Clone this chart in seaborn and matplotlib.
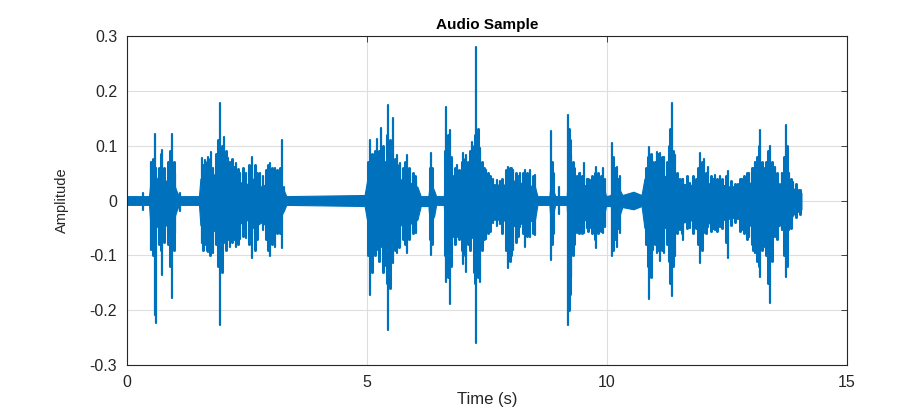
import numpy as np
import pandas as pd
import matplotlib
matplotlib.use("Agg")
import matplotlib.pyplot as plt
import seaborn as sns

# envelope of the dense "body" of the waveform (s, amplitude)
body_t = [0.00, 0.46, 0.49, 0.58, 0.68, 0.80, 0.93, 1.02, 1.08, 1.50, 1.53, 1.70, 1.92, 2.10,
          2.30, 2.50, 2.62, 2.80, 2.98, 3.15, 3.27, 3.32, 4.95, 5.02, 5.30, 5.45, 5.65, 5.85,
          6.05, 6.12, 6.28, 6.31, 6.40, 6.44, 6.60, 6.63, 6.80, 7.00, 7.28, 7.45, 7.63, 7.85,
          7.95, 8.10, 8.30, 8.50, 8.55, 8.80, 8.83, 8.92, 9.16, 9.19, 9.35, 9.55, 9.75, 9.92,
          9.98, 10.08, 10.11, 10.25, 10.32, 10.55, 10.72, 10.78, 10.95, 11.20, 11.40, 11.60,
          11.80, 11.95, 12.20, 12.45, 12.70, 12.95, 13.15, 13.40, 13.60, 13.72, 13.88, 14.05]
body_hi = [0.008, 0.008, 0.035, 0.045, 0.035, 0.035, 0.045, 0.020, 0.008, 0.008, 0.040, 0.045,
           0.050, 0.045, 0.035, 0.030, 0.040, 0.025, 0.035, 0.030, 0.018, 0.008, 0.010, 0.045,
           0.050, 0.050, 0.040, 0.035, 0.025, 0.008, 0.008, 0.035, 0.018, 0.008, 0.008, 0.045,
           0.035, 0.040, 0.045, 0.028, 0.030, 0.028, 0.040, 0.035, 0.030, 0.025, 0.008, 0.008,
           0.035, 0.008, 0.008, 0.050, 0.030, 0.028, 0.030, 0.028, 0.008, 0.010, 0.040, 0.022,
           0.010, 0.016, 0.010, 0.040, 0.045, 0.045, 0.040, 0.030, 0.028, 0.035, 0.030, 0.028,
           0.022, 0.030, 0.045, 0.045, 0.030, 0.045, 0.022, 0.014]
body_lo = [-0.008, -0.008, -0.045, -0.050, -0.045, -0.045, -0.050, -0.022, -0.008, -0.008,
           -0.045, -0.050, -0.060, -0.050, -0.045, -0.035, -0.050, -0.040, -0.050, -0.040,
           -0.018, -0.008, -0.010, -0.045, -0.050, -0.060, -0.045, -0.045, -0.035, -0.010,
           -0.010, -0.045, -0.028, -0.008, -0.008, -0.050, -0.045, -0.050, -0.055, -0.035,
           -0.035, -0.035, -0.050, -0.045, -0.040, -0.035, -0.008, -0.008, -0.045, -0.008,
           -0.008, -0.065, -0.045, -0.035, -0.045, -0.035, -0.010, -0.010, -0.050, -0.030,
           -0.012, -0.016, -0.010, -0.050, -0.050, -0.050, -0.045, -0.040, -0.035, -0.045,
           -0.040, -0.035, -0.030, -0.045, -0.050, -0.060, -0.045, -0.050, -0.026, -0.016]

# tallest individual peaks (s, max, min)
spike_t = [0.34, 0.51, 0.58, 0.60, 0.74, 0.93, 1.00, 1.10, 1.56, 1.62, 1.69, 1.76, 1.80, 1.94,
           2.03, 2.11, 2.15, 2.28, 2.35, 2.48, 2.60, 2.61, 2.77, 2.84, 2.98, 3.08, 3.22, 3.27,
           5.06, 5.13, 5.21, 5.30, 5.38, 5.44, 5.55, 5.62, 5.69, 5.83, 5.90, 6.03, 6.33, 6.65,
           6.72, 6.80, 6.87, 6.94, 7.00, 7.07, 7.18, 7.28, 7.35, 7.48, 7.63, 7.70, 7.77, 7.94,
           8.05, 8.19, 8.29, 8.40, 8.50, 8.83, 8.99, 9.19, 9.26, 9.37, 9.44, 9.52, 9.58, 9.64,
           9.78, 9.91, 9.95, 10.11, 10.20, 10.27, 10.88, 10.96, 11.04, 11.10, 11.19, 11.35,
           11.42, 11.52, 11.59, 11.73, 11.94, 12.01, 12.11, 12.25, 12.35, 12.53, 12.63, 12.72,
           12.81, 12.95, 13.08, 13.19, 13.27, 13.40, 13.50, 13.64, 13.72, 13.80, 13.88, 13.99]
spike_hi = [0.013, 0.070, 0.122, 0.060, 0.092, 0.122, 0.050, 0.013, 0.077, 0.074, 0.080, 0.089,
            0.060, 0.177, 0.116, 0.077, 0.070, 0.068, 0.050, 0.050, 0.080, 0.050, 0.050, 0.045,
            0.068, 0.060, 0.110, 0.025, 0.110, 0.062, 0.113, 0.132, 0.070, 0.174, 0.150, 0.083,
            0.068, 0.083, 0.045, 0.038, 0.086, 0.171, 0.129, 0.045, 0.065, 0.035, 0.086, 0.083,
            0.107, 0.280, 0.095, 0.056, 0.040, 0.037, 0.035, 0.062, 0.055, 0.050, 0.055, 0.055,
            0.046, 0.126, 0.025, 0.156, 0.083, 0.045, 0.050, 0.068, 0.040, 0.037, 0.062, 0.059,
            0.040, 0.104, 0.062, 0.045, 0.098, 0.070, 0.089, 0.086, 0.080, 0.177, 0.083, 0.040,
            0.040, 0.032, 0.086, 0.075, 0.062, 0.047, 0.044, 0.053, 0.025, 0.030, 0.040, 0.050,
            0.071, 0.129, 0.060, 0.100, 0.062, 0.050, 0.138, 0.050, 0.034, 0.019]
spike_lo = [-0.017, -0.090, -0.209, -0.224, -0.136, -0.178, -0.060, -0.020, -0.078, -0.082,
            -0.093, -0.070, -0.096, -0.227, -0.078, -0.072, -0.084, -0.084, -0.070, -0.068,
            -0.060, -0.105, -0.035, -0.054, -0.102, -0.084, -0.087, -0.020, -0.172, -0.080,
            -0.090, -0.084, -0.120, -0.236, -0.114, -0.096, -0.084, -0.096, -0.055, -0.060,
            -0.100, -0.148, -0.188, -0.066, -0.066, -0.045, -0.115, -0.130, -0.069, -0.259,
            -0.148, -0.070, -0.041, -0.047, -0.042, -0.124, -0.090, -0.048, -0.084, -0.066,
            -0.063, -0.108, -0.024, -0.227, -0.139, -0.060, -0.055, -0.060, -0.050, -0.051,
            -0.087, -0.060, -0.048, -0.102, -0.084, -0.060, -0.180, -0.090, -0.096, -0.110,
            -0.096, -0.175, -0.102, -0.054, -0.072, -0.050, -0.114, -0.060, -0.048, -0.054,
            -0.048, -0.105, -0.032, -0.034, -0.054, -0.066, -0.096, -0.139, -0.084, -0.187,
            -0.066, -0.054, -0.139, -0.054, -0.026, -0.020]

# mid-height strokes that make up the comb-like texture (s, max, min)
comb_t = [0.54, 0.66, 0.70, 0.78, 0.86, 0.90, 0.97,
          1.59, 1.66, 1.73, 1.85, 1.89, 1.98, 2.07, 2.19, 2.24, 2.32, 2.42, 2.55, 2.66, 2.70,
          2.90, 2.94, 3.02, 3.12, 3.18,
          5.03, 5.10, 5.17, 5.25, 5.34, 5.41, 5.48, 5.52, 5.59, 5.66, 5.74, 5.79, 5.87, 5.95,
          6.00, 6.31, 6.36,
          6.63, 6.68, 6.76, 6.84, 6.91, 6.97, 7.04, 7.11, 7.15, 7.22, 7.25, 7.32, 7.40, 7.44,
          7.53, 7.57, 7.81, 7.90, 7.98, 8.01, 8.10, 8.14, 8.24, 8.34, 8.45, 8.85, 8.88,
          9.21, 9.23, 9.29, 9.32, 9.41, 9.48, 9.61, 9.69, 9.74, 9.82, 9.87, 10.13, 10.16, 10.23,
          10.82, 10.85, 10.91, 11.00, 11.07, 11.14, 11.24, 11.29, 11.32, 11.38, 11.46, 11.56,
          11.66, 11.79, 11.85, 11.90, 11.98, 12.06, 12.16, 12.20, 12.30, 12.40, 12.47, 12.58,
          12.67, 12.76, 12.86, 12.91, 13.01, 13.04, 13.12, 13.16, 13.23, 13.31, 13.36, 13.44,
          13.55, 13.68, 13.75, 13.84, 13.93, 14.02]
comb_hi = [0.075, 0.060, 0.085, 0.060, 0.070, 0.090, 0.070,
           0.065, 0.070, 0.075, 0.085, 0.110, 0.100, 0.090, 0.075, 0.062, 0.058, 0.060, 0.065,
           0.065, 0.050, 0.055, 0.065, 0.060, 0.055, 0.060,
           0.070, 0.085, 0.090, 0.090, 0.100, 0.120, 0.110, 0.090, 0.075, 0.065, 0.060, 0.070,
           0.060, 0.050, 0.045, 0.060, 0.060,
           0.090, 0.120, 0.080, 0.060, 0.055, 0.070, 0.075, 0.070, 0.090, 0.100, 0.120, 0.130,
           0.070, 0.060, 0.050, 0.045, 0.040, 0.055, 0.060, 0.060, 0.050, 0.045, 0.050, 0.050,
           0.045, 0.070, 0.050,
           0.130, 0.110, 0.070, 0.060, 0.050, 0.045, 0.040, 0.045, 0.050, 0.050, 0.045, 0.080,
           0.060, 0.040,
           0.060, 0.080, 0.085, 0.070, 0.085, 0.080, 0.070, 0.100, 0.130, 0.090, 0.050, 0.040,
           0.045, 0.045, 0.040, 0.060, 0.070, 0.050, 0.045, 0.040, 0.040, 0.040, 0.045, 0.035,
           0.030, 0.040, 0.045, 0.050, 0.060, 0.060, 0.080, 0.100, 0.070, 0.070, 0.090, 0.070,
           0.050, 0.080, 0.100, 0.040, 0.030, 0.020]
comb_lo = [-0.100, -0.080, -0.090, -0.075, -0.080, -0.120, -0.090,
           -0.090, -0.090, -0.100, -0.080, -0.120, -0.130, -0.090, -0.075, -0.070, -0.080,
           -0.065, -0.080, -0.090, -0.070, -0.070, -0.090, -0.080, -0.060, -0.060,
           -0.100, -0.130, -0.100, -0.110, -0.130, -0.150, -0.160, -0.100, -0.090, -0.085,
           -0.070, -0.080, -0.070, -0.060, -0.055, -0.070, -0.080,
           -0.100, -0.140, -0.120, -0.080, -0.070, -0.090, -0.100, -0.080, -0.090, -0.130,
           -0.150, -0.140, -0.090, -0.070, -0.060, -0.055, -0.060, -0.090, -0.110, -0.100,
           -0.075, -0.065, -0.060, -0.065, -0.060, -0.080, -0.060,
           -0.200, -0.170, -0.100, -0.080, -0.060, -0.060, -0.055, -0.060, -0.070, -0.060,
           -0.055, -0.090, -0.070, -0.050,
           -0.080, -0.120, -0.140, -0.080, -0.090, -0.090, -0.080, -0.110, -0.150, -0.120,
           -0.060, -0.060, -0.050, -0.060, -0.050, -0.080, -0.090, -0.060, -0.055, -0.050,
           -0.055, -0.050, -0.075, -0.045, -0.040, -0.055, -0.060, -0.070, -0.080, -0.090,
           -0.110, -0.120, -0.090, -0.100, -0.150, -0.110, -0.070, -0.100, -0.120, -0.050,
           -0.030, -0.025]

x_ticks = [0, 5, 10, 15]
y_ticks = [-0.3, -0.2, -0.1, 0, 0.1, 0.2, 0.3]
y_labels = ["-0.3", "-0.2", "-0.1", "0", "0.1", "0.2", "0.3"]

LINE_COLOR = "#0072BD"

sns.set_theme(style="whitegrid")
plt.rcParams["font.family"] = ["Liberation Sans", "DejaVu Sans"]


def strokes(t, hi, lo):
    # two points per stroke -> one vertical segment per unit
    return pd.DataFrame({
        "t": t + t,
        "amp": hi + lo,
        "unit": list(range(len(t))) * 2,
    })


fig = plt.figure(figsize=(9.22, 4.07), dpi=100)
ax = fig.add_axes([0.1377, 0.1032, 0.7810, 0.8083])

ax.fill_between(body_t, body_lo, body_hi, color=LINE_COLOR, linewidth=0.8, edgecolor=LINE_COLOR)
sns.lineplot(data=strokes(comb_t, comb_hi, comb_lo), x="t", y="amp", units="unit",
             estimator=None, sort=False, color=LINE_COLOR, linewidth=2.2, ax=ax, legend=False)
sns.lineplot(data=strokes(spike_t, spike_hi, spike_lo), x="t", y="amp", units="unit",
             estimator=None, sort=False, color=LINE_COLOR, linewidth=1.6, ax=ax, legend=False)

ax.set_xlim(0, 15)
ax.set_ylim(-0.3, 0.3)
ax.set_xticks(x_ticks)
ax.set_yticks(y_ticks)
ax.set_yticklabels(y_labels)

ax.grid(True, color="#dedede", linewidth=0.8)
for s in ax.spines.values():
    s.set_visible(True)
    s.set_color("#262626")
    s.set_linewidth(0.8)
ax.tick_params(direction="in", length=4, width=0.6, color="#262626",
               top=True, right=True, labelsize=11.5, labelcolor="#262626", pad=7)

ax.set_title("Audio Sample", fontsize=11, fontweight="bold", pad=5, color="black")
ax.set_xlabel("Time (s)", fontsize=12, color="#262626", labelpad=2)
ax.set_ylabel("Amplitude", fontsize=10.5, color="#262626", labelpad=15,
              family=["Liberation Sans Narrow", "Liberation Sans", "DejaVu Sans"])

fig.savefig("out.png", dpi=100, facecolor="white")
